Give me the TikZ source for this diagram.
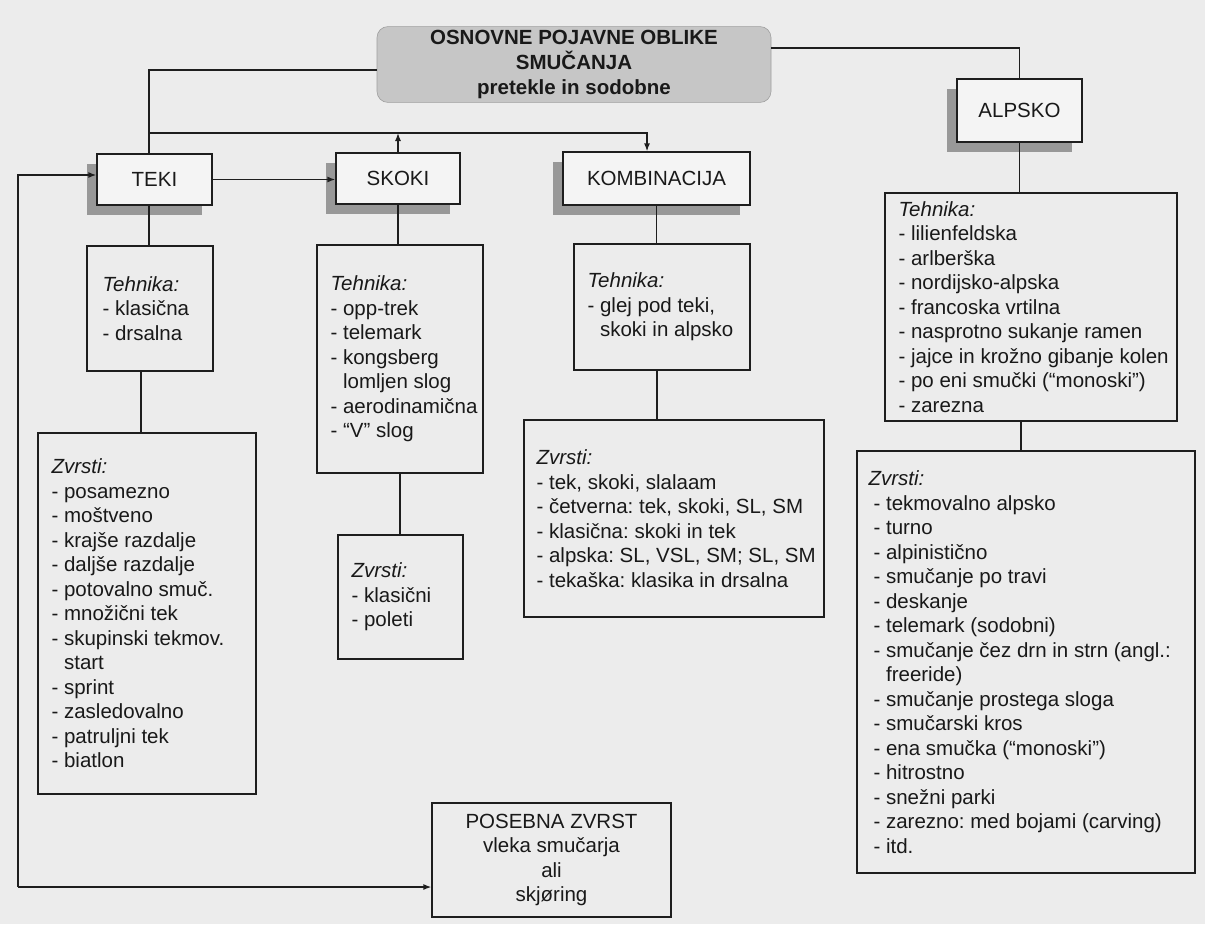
\documentclass[tikz,border=0pt]{standalone}
\usepackage{fontspec}
\setmainfont{Liberation Sans}
\usetikzlibrary{arrows.meta,shadows}
\definecolor{bgcol}{RGB}{236,236,236}
\definecolor{headfill}{RGB}{244,244,244}
\definecolor{shadowgray}{RGB}{152,152,152}
\definecolor{titlefill}{RGB}{198,198,198}
\definecolor{linecol}{RGB}{30,30,30}
\newcommand\ind{\hphantom{-\ }}
\frenchspacing
\begin{document}
\begin{tikzpicture}[x=1pt,y=-1pt,
  every node/.style={font=\fontsize{20.5}{24.5}\selectfont, text=black!90},
  listbox/.style={draw=linecol, line width=1.3pt, fill=bgcol, inner sep=0pt},
  listtext/.style={inner sep=0pt, align=left, anchor=west},
  headbox/.style={draw=linecol, line width=1.3pt, fill=headfill, inner sep=0pt,
    drop shadow={shadow xshift=-10.5pt, shadow yshift=-10pt, fill=shadowgray, opacity=1}},
  titlebox/.style={draw=gray!75, line width=0.6pt, fill=titlefill, rounded corners=11pt, inner sep=0pt,
    font=\fontsize{20.5}{25}\selectfont\bfseries},
  conn/.style={line width=1.3pt, draw=linecol},
  arr/.style={conn, -{Latex[length=8pt,width=6pt]}}
]
\useasboundingbox[fill=bgcol] (0,0) rectangle (1205,924);

% title
\node[titlebox, minimum width=394pt, minimum height=75pt] (title) at (574,64.5)
  {\raisebox{-3pt}{\begin{tabular}{@{}c@{}}OSNOVNE POJAVNE OBLIKE\\SMUČANJA\\pretekle in sodobne\end{tabular}}};

% header boxes
\node[headbox, minimum width=115pt, minimum height=51pt] (teki) at (154.5,179.5) {TEKI};
\node[headbox, minimum width=124pt, minimum height=51pt] (skoki) at (398,178.5) {SKOKI};
\node[headbox, minimum width=187pt, minimum height=53pt] (komb) at (656.5,178.5) {KOMBINACIJA};
\node[headbox, minimum width=125pt, minimum height=63pt] (alpsko) at (1019.5,110.5) {ALPSKO};

% list boxes
\node[listbox, minimum width=126pt, minimum height=125pt] (tekiT) at (150,308.5) {};
\node[listbox, minimum width=218pt, minimum height=361pt] (tekiZ) at (147,613.5) {};
\node[listbox, minimum width=166pt, minimum height=228pt] (skokiT) at (400,359) {};
\node[listbox, minimum width=125pt, minimum height=124pt] (skokiZ) at (400.5,597) {};
\node[listbox, minimum width=176pt, minimum height=126pt] (kombT) at (662,307) {};
\node[listbox, minimum width=300pt, minimum height=197pt] (kombZ) at (674,518.5) {};
\node[listbox, minimum width=292pt, minimum height=228pt] (alpT) at (1031,307) {};
\node[listbox, minimum width=338pt, minimum height=422pt] (alpZ) at (1026,662) {};
\node[listbox, align=center, minimum width=239pt, minimum height=114pt] (posebna) at (551.5,860)
  {POSEBNA ZVRST\\vleka smučarja\\ali\\skjøring};

% texts of the list boxes
\node[listtext] (tekiTx) at ([xshift=16pt]tekiT.west)
  {\textit{Tehnika:}\\- klasična\\- drsalna};
\node[listtext] (tekiZx) at ([xshift=14pt]tekiZ.west)
  {\textit{Zvrsti:}\\- posamezno\\- moštveno\\- krajše razdalje\\- daljše razdalje\\- potovalno smuč.\\- množični tek\\- skupinski tekmov.\\\ind start\\- sprint\\- zasledovalno\\- patruljni tek\\- biatlon};
\node[listtext] (skokiTx) at ([xshift=14pt]skokiT.west)
  {\textit{Tehnika:}\\- opp-trek\\- telemark\\- kongsberg\\\ind lomljen slog\\- aerodinamična\\- “V" slog};
\node[listtext] (skokiZx) at ([xshift=14pt]skokiZ.west)
  {\textit{Zvrsti:}\\- klasični\\- poleti};
\node[listtext] (kombTx) at ([xshift=14pt]kombT.west)
  {\textit{Tehnika:}\\- glej pod teki,\\\ind skoki in alpsko};
\node[listtext] (kombZx) at ([xshift=13pt]kombZ.west)
  {\textit{Zvrsti:}\\- tek, skoki, slalaam\\- četverna: tek, skoki, SL, SM\\- klasična: skoki in tek\\- alpska: SL, VSL, SM; SL, SM\\- tekaška: klasika in drsalna};
\node[listtext] (alpTx) at ([xshift=14pt]alpT.west)
  {\textit{Tehnika:}\\- lilienfeldska\\- arlberška\\- nordijsko-alpska\\- francoska vrtilna\\- nasprotno sukanje ramen\\- jajce in krožno gibanje kolen\\- po eni smučki (“monoski")\\- zarezna};
\node[listtext] (alpZx) at ([xshift=12pt]alpZ.west)
  {\textit{Zvrsti:}\\\hspace*{5pt}- tekmovalno alpsko\\\hspace*{5pt}- turno\\\hspace*{5pt}- alpinistično\\\hspace*{5pt}- smučanje po travi\\\hspace*{5pt}- deskanje\\\hspace*{5pt}- telemark (sodobni)\\\hspace*{5pt}- smučanje čez drn in strn (angl.:\\\hspace*{5pt}\ind freeride)\\\hspace*{5pt}- smučanje prostega sloga\\\hspace*{5pt}- smučarski kros\\\hspace*{5pt}- ena smučka (“monoski")\\\hspace*{5pt}- hitrostno\\\hspace*{5pt}- snežni parki\\\hspace*{5pt}- zarezno: med bojami (carving)\\\hspace*{5pt}- itd.};

% connectors
\coordinate (j1) at (149,133);
\coordinate (lc) at (18,887);
\draw[conn] ([yshift=-5.5pt]title.west) -| ([xshift=-5.5pt]teki.north);
\draw[arr] (j1) -| ([xshift=-9.5pt]komb.north);
\draw[arr] (skoki.north) -- (skoki.north |- j1);
\draw[conn] ([yshift=16.5pt]title.east) -| (alpsko.north);
\draw[arr] (teki.east) -- (teki.east -| skoki.west);
\draw[arr] (lc) |- ([yshift=4.5pt]teki.west);
\draw[arr] (lc) -- (lc -| posebna.west);
\draw[conn] ([xshift=-5.5pt]teki.south) -- ([xshift=-5.5pt]teki.south |- tekiT.north);
\draw[conn] ([xshift=-9pt]tekiT.south) -- ([xshift=-9pt]tekiT.south |- tekiZ.north);
\draw[conn] (skoki.south) -- (skoki.south |- skokiT.north);
\draw[conn] (skokiT.south) -- (skokiT.south |- skokiZ.north);
\draw[conn] (komb.south) -- (komb.south |- kombT.north);
\draw[conn] ([xshift=-5pt]kombT.south) -- ([xshift=-5pt]kombT.south |- kombZ.north);
\draw[conn] (alpsko.south) -- (alpsko.south |- alpT.north);
\draw[conn] ([xshift=-10pt]alpT.south) -- ([xshift=-10pt]alpT.south |- alpZ.north);
\end{tikzpicture}
\end{document}
